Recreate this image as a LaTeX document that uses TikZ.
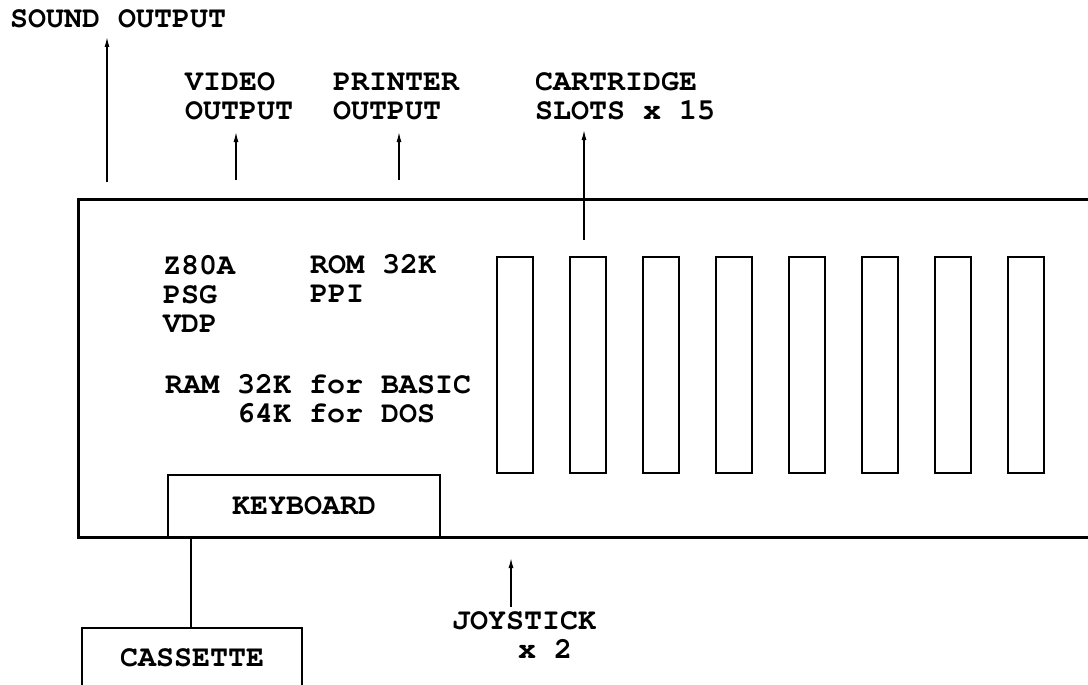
\documentclass[tikz,border=0pt]{standalone}
\usepackage[T1]{fontenc}
\usepackage{courier}
\usetikzlibrary{arrows.meta}

\tikzset{
  typed/.style={font=\fontfamily{pcr}\fontseries{b}\fontsize{30}{29}\selectfont},
  lbl/.style={typed, inner sep=0pt, anchor=base west, align=left},
  unit/.style={typed, draw, line width=2pt, inner sep=0pt, outer sep=0pt},
  slot/.style={draw, line width=2pt, minimum width=36pt, minimum height=216pt,
    anchor=north west, inner sep=0pt, outer sep=0pt},
  arr/.style={line width=1.3pt, -{Latex[length=10pt,width=5pt]}}
}

\begin{document}
\begin{tikzpicture}[x=1pt, y=-1pt]
  \clip (0,0) rectangle (1088,685);
  \fill[white] (0,0) rectangle (1088,685);

  % main box, runs on past the right edge
  \node[draw, line width=3pt, minimum width=1100pt, minimum height=338pt,
        anchor=north west, inner sep=0pt, outer sep=0pt] (console) at (78,199) {};
  \node[unit, minimum width=272pt, minimum height=62pt, anchor=north west] (kbd) at (168,475) {KEYBOARD};
  \node[unit, minimum width=220pt, minimum height=60pt, anchor=north west] (cas) at (82,628) {CASSETTE};

  \foreach \i in {0,...,7}
    \node[slot] (slot\i) at ({497+73*\i},257) {};

  % base anchor sits on the last line
  \node[lbl] (cpu) at (163,332) {Z80A\\PSG\\VDP};
  \node[lbl] (rom) at (310,302) {ROM 32K\\PPI};
  \node[lbl] (ram) at (165,422) {RAM 32K for BASIC\\\phantom{RAM }64K for DOS};

  \node[lbl] (snd) at (10,28) {SOUND OUTPUT};
  \node[lbl] (vid) at (185,120) {VIDEO\\OUTPUT};
  \node[lbl] (prn) at (333,120) {PRINTER\\OUTPUT};
  \node[lbl] (cart) at (535,120) {CARTRIDGE\\SLOTS x 15};
  \node[lbl] (joy) at (452,658) {JOYSTICK\\\hspace*{66pt}x 2};

  % ports
  \coordinate (sndfoot) at (107,182); \coordinate (sndtip) at (107,37);
  \coordinate (vidfoot) at (236,180); \coordinate (vidtip) at (236,132);
  \coordinate (prnfoot) at (399,180); \coordinate (prntip) at (399,132);
  \coordinate (cartfoot) at (584,240); \coordinate (carttip) at (584,130);
  \coordinate (joyfoot) at (511,607); \coordinate (joytip) at (511,558);
  \draw[arr] (sndfoot) -- (sndtip);
  \draw[arr] (vidfoot) -- (vidtip);
  \draw[arr] (prnfoot) -- (prntip);
  \draw[arr] (cartfoot) -- (carttip);
  \draw[arr] (joyfoot) -- (joytip);

  \coordinate (tap) at (191,537);
  \draw[line width=1.5pt] (tap) -- (tap |- cas.north);
\end{tikzpicture}
\end{document}
